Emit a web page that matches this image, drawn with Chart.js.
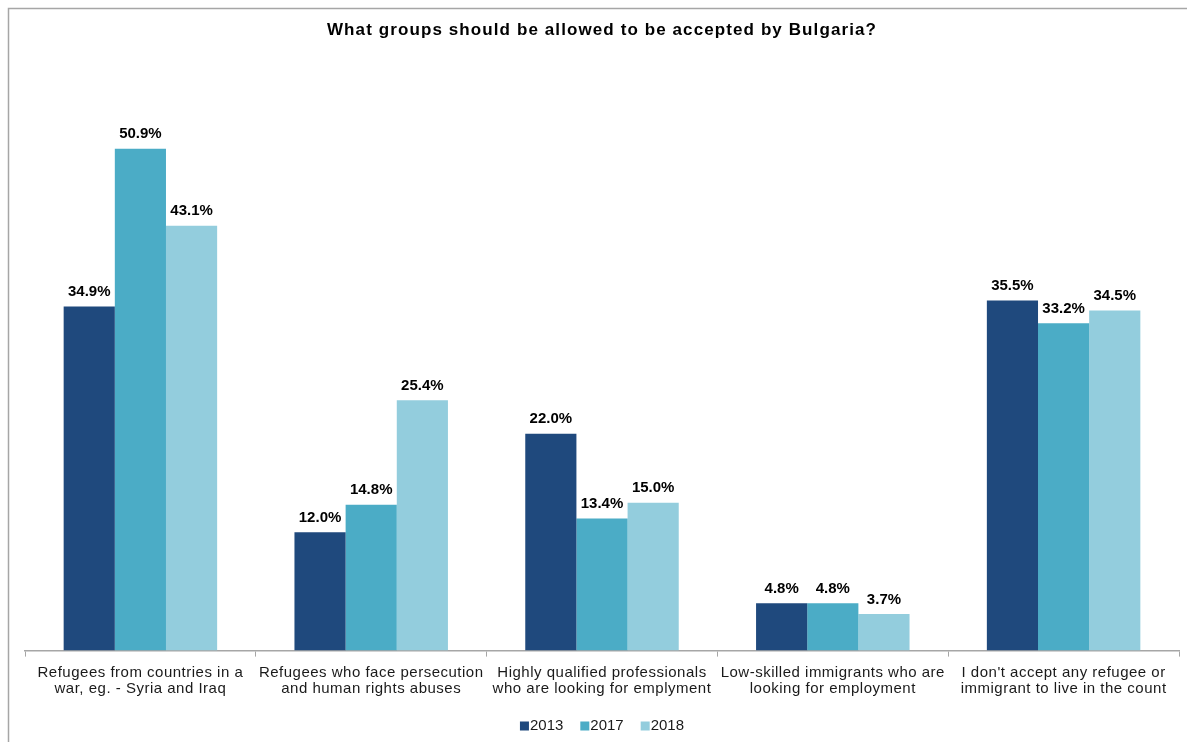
<!DOCTYPE html>
<html>
<head>
<meta charset="utf-8">
<script src="https://cdn.jsdelivr.net/npm/chart.js@4.4.1/dist/chart.umd.min.js"></script>
<style>
  html, body { margin: 0; padding: 0; background: #ffffff; }
  #wrap { width: 1187px; height: 742px; position: relative; }
</style>
</head>
<body>
<div id="wrap"><canvas id="c"></canvas></div>
<script>
// Survey answers by group, share of respondents (%)
const categories = [
  ["Refugees from countries in a", "war, eg. - Syria and Iraq"],
  ["Refugees who face persecution", "and human rights abuses"],
  ["Highly qualified professionals", "who are looking for emplyment"],
  ["Low-skilled immigrants who are", "looking for employment"],
  ["I don't accept any refugee or", "immigrant to live in the count"]
];
const years = ["2013", "2017", "2018"];
const values2013 = [34.9, 12.0, 22.0, 4.8, 35.5];
const values2017 = [50.9, 14.8, 13.4, 4.8, 33.2];
const values2018 = [43.1, 25.4, 15.0, 3.7, 34.5];
const colors = ["#1f497d", "#4bacc6", "#93cddd"];
const chartTitle = 'What groups should be allowed to be accepted by Bulgaria?';

const FONT = "'Liberation Sans', Arial, sans-serif";

// Grey frame, title and wider tick-label spacing
const framePlugin = {
  id: 'frame',
  beforeDraw(chart) {
    const ctx = chart.ctx;
    ctx.save();
    ctx.fillStyle = '#ffffff';
    ctx.fillRect(0, 0, chart.width, chart.height);
    ctx.strokeStyle = '#a6a6a6';
    ctx.lineWidth = 1.5;
    ctx.beginPath();
    ctx.moveTo(8.5, chart.height + 5);
    ctx.lineTo(8.5, 8.5);
    ctx.lineTo(chart.width + 5, 8.5);
    ctx.stroke();

    ctx.font = "bold 17px " + FONT;
    ctx.letterSpacing = '1.1px';
    ctx.fillStyle = '#000000';
    ctx.textAlign = 'center';
    ctx.textBaseline = 'middle';
    ctx.fillText(chartTitle, (chart.chartArea.left + chart.chartArea.right) / 2, 30);
    ctx.restore();
    ctx.letterSpacing = '0.5px';
  },
  beforeDatasetsDraw(chart) {
    chart.ctx.letterSpacing = '0px';
  }
};

// Percentage labels above each bar
const valueLabels = {
  id: 'valueLabels',
  afterDatasetsDraw(chart) {
    const ctx = chart.ctx;
    ctx.save();
    ctx.font = "bold 15px " + FONT;
    ctx.fillStyle = '#000000';
    ctx.textAlign = 'center';
    ctx.textBaseline = 'bottom';
    chart.data.datasets.forEach((ds, i) => {
      chart.getDatasetMeta(i).data.forEach((bar, j) => {
        ctx.fillText(ds.data[j].toFixed(1) + '%', bar.x, bar.y - 7);
      });
    });
    ctx.restore();
  }
};

// Compact legend row under the axis labels
const legendRow = {
  id: 'legendRow',
  afterDraw(chart) {
    const ctx = chart.ctx;
    ctx.save();
    ctx.font = "15px " + FONT;
    ctx.textBaseline = 'middle';
    ctx.textAlign = 'left';
    const box = 9, gap = 1, spacing = 17;
    const items = chart.data.datasets.map(ds => ({
      label: ds.label, color: ds.backgroundColor, w: ctx.measureText(ds.label).width
    }));
    const total = items.reduce((s, it) => s + box + gap + it.w, 0) + spacing * (items.length - 1);
    let x = (chart.chartArea.left + chart.chartArea.right) / 2 - total / 2;
    const y = 726;
    items.forEach(it => {
      ctx.fillStyle = it.color;
      ctx.fillRect(x, y - 4.5, box, box);
      ctx.fillStyle = '#1a1a1a';
      ctx.fillText(it.label, x + box + gap, y);
      x += box + gap + it.w + spacing;
    });
    ctx.restore();
  }
};

new Chart(document.getElementById('c'), {
  type: 'bar',
  data: {
    labels: categories,
    datasets: [
      { label: years[0], data: values2013, backgroundColor: colors[0] },
      { label: years[1], data: values2017, backgroundColor: colors[1] },
      { label: years[2], data: values2018, backgroundColor: colors[2] }
    ]
  },
  options: {
    responsive: true,
    maintainAspectRatio: false,
    animation: false,
    layout: { padding: { top: 59, left: 25, right: 8, bottom: 37 } },
    datasets: { bar: { categoryPercentage: 0.665, barPercentage: 1.0 } },
    scales: {
      x: {
        grid: {
          display: true,
          drawOnChartArea: false,
          drawTicks: true,
          tickLength: 6,
          color: '#a6a6a6',
          offset: true
        },
        border: { display: true, color: '#a6a6a6', width: 1.5 },
        ticks: {
          color: '#1a1a1a',
          font: { family: FONT, size: 15, lineHeight: 1.08 },
          padding: 8,
          maxRotation: 0,
          autoSkip: false
        }
      },
      y: {
        display: false,
        min: 0,
        max: 60
      }
    },
    plugins: {
      title: { display: false },
      legend: { display: false },
      tooltip: { enabled: false }
    }
  },
  plugins: [framePlugin, valueLabels, legendRow]
});
</script>
</body>
</html>
